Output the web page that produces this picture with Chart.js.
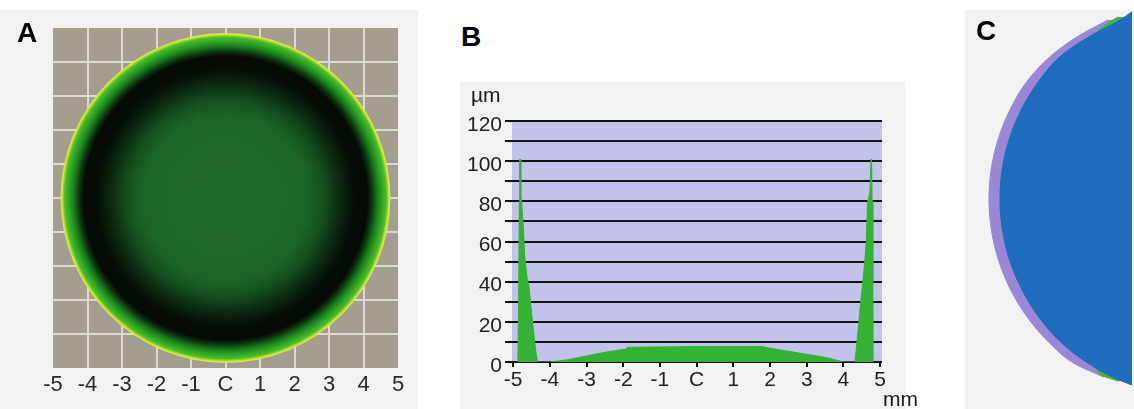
<!DOCTYPE html>
<html><head><meta charset="utf-8">
<script src="https://cdn.jsdelivr.net/npm/chart.js@4.4.1/dist/chart.umd.min.js"></script>
<style>
html,body{margin:0;padding:0;background:#ffffff;width:1134px;height:409px;overflow:hidden;font-family:"Liberation Sans",Arial,sans-serif;}
.panel{position:absolute;background:#f2f2f3;}
.lbl{position:absolute;line-height:1;white-space:nowrap;color:#1a1a1a;}
.letter{font-weight:bold;font-size:28px;color:#000;}
canvas{position:absolute;}
</style></head>
<body>
<div class="panel" style="left:0;top:10px;width:418px;height:399px;"></div>
<div class="panel" style="left:460px;top:82px;width:445px;height:327px;"></div>
<div class="panel" style="left:965px;top:10px;width:169px;height:399px;"></div>

<canvas id="ca" width="420" height="409" style="left:0;top:0;"></canvas>
<canvas id="cb" width="460" height="329" style="left:440px;top:80px;"></canvas>
<canvas id="cc" width="174" height="409" style="left:960px;top:0;"></canvas>

<div class="lbl letter" style="left:17px;top:19px;">A</div>
<div class="lbl letter" style="left:461px;top:23px;">B</div>
<div class="lbl letter" style="left:976px;top:17px;">C</div>
<div class="lbl" style="left:471px;top:84px;font-size:21px;">µm</div>
<div class="lbl" style="left:883px;top:388px;font-size:21px;">mm</div>

<script>
// ---------- Panel A: thickness map ----------
const aTicks = [-5, -4, -3, -2, -1, 0, 1, 2, 3, 4, 5];
const aTickLabels = ['-5', '-4', '-3', '-2', '-1', 'C', '1', '2', '3', '4', '5'];
const aLensX = [0];
const aLensY = [0];
const aLensRadius = 4.78;
const aStops  = [0, 0.5, 0.6, 0.7, 0.78, 0.86, 0.89, 0.92, 0.95, 0.975, 0.985, 0.993, 1.0];
const aColors = ['#1e6b2c', '#1c6529', '#154f1f', '#0b2810', '#050d06', '#050a05',
                 '#0d3a0f', '#1a7a1c', '#2fa526', '#4cbc2a', '#9ed436', '#d8e63c', '#e4ea48'];

// ---------- Panel B: thickness profile ----------
const bXTicks = [-5, -4, -3, -2, -1, 0, 1, 2, 3, 4, 5];
const bXLabels = ['-5', '-4', '-3', '-2', '-1', 'C', '1', '2', '3', '4', '5'];
const bYTicks = [0, 10, 20, 30, 40, 50, 60, 70, 80, 90, 100, 110, 120];
const bYLabels = ['0', '', '20', '', '40', '', '60', '', '80', '', '100', '', '120'];
const bX = [-4.87, -4.85, -4.83, -4.82, -4.81, -4.79, -4.77, -4.73, -4.68, -4.62, -4.57, -4.50, -4.44, -4.38, -4.33,
            -4.0, -3.55, -3.0, -2.45, -2.1, -1.95, -1.88, -1.0, 0, 1.0, 1.8, 1.9, 2.45, 3.0, 3.54, 3.9, 3.98,
            4.31, 4.36, 4.42, 4.48, 4.53, 4.58, 4.62, 4.66, 4.72, 4.75, 4.765, 4.78, 4.80, 4.81];
const bY = [0, 30, 80, 101, 101, 84, 80, 70, 52, 42, 38, 25, 15, 5, 0,
            0, 1, 3, 5, 6, 6.3, 7.3, 7.5, 7.7, 7.7, 7.7, 7.2, 5.5, 3.8, 2.2, 0.5, 0,
            0, 8, 20, 32, 40, 50, 60, 80, 84, 101, 101, 80, 40, 0];

// ---------- Panel C: cross-section ----------
const cBlueY   = [5.0, 4.784, 4.382, 3.845, 3.175, 2.371, 1.567, 0.762, -0.015, -0.793, -1.597, -2.401, -3.205, -3.876, -4.412, -4.814, -5.0];
const cBlueX   = [-0.01, -0.32, -1.072, -1.879, -2.477, -2.973, -3.298, -3.483, -3.539, -3.483, -3.298, -2.973, -2.477, -1.879, -1.18, -0.456, 0];
const cGreenY  = [4.864, 4.65, 4.248, -0.015, -4.332, -4.707, -4.894];
const cGreenX  = [-0.375, -0.724, -1.126, -3.0, -0.99, -0.858, -0.375];
const cPurpleY = [4.784, 4.382, 3.845, 3.175, 2.371, 1.567, 0.762, -0.015, -0.793, -1.597, -2.401, -3.205, -3.876, -4.412, -4.787];
const cPurpleX = [-0.643, -1.394, -2.145, -2.788, -3.276, -3.595, -3.777, -3.834, -3.777, -3.595, -3.276, -2.788, -2.204, -1.560, -0.751];

Chart.defaults.font.family = "'Liberation Sans', Arial, sans-serif";

const areaFill = (id, color) => ({
  id: id,
  beforeDraw(chart) {
    const {ctx, chartArea: a} = chart;
    ctx.save();
    ctx.fillStyle = color;
    ctx.fillRect(a.left, a.top, a.width, a.height);
    ctx.restore();
  }
});
const setTicks = arr => (s => { s.ticks = arr.map(v => ({value: v})); });

// Panel A
function lensRadius(c) {
  const xs = c.chart.scales.x;
  return Math.abs(xs.getPixelForValue(aLensRadius) - xs.getPixelForValue(0));
}
function lensFill(c) {
  const ch = c.chart;
  const cx = ch.scales.x.getPixelForValue(aLensX[0]);
  const cy = ch.scales.y.getPixelForValue(aLensY[0]);
  const r = lensRadius(c);
  if (!isFinite(cx) || !isFinite(cy) || !(r > 0)) return '#1e6b2c';
  const g = ch.ctx.createRadialGradient(cx, cy, 0, cx, cy, r);
  aStops.forEach((s, i) => g.addColorStop(s, aColors[i]));
  return g;
}
new Chart(document.getElementById('ca'), {
  type: 'scatter',
  data: {datasets: [{
    data: aLensX.map((x, i) => ({x: x, y: aLensY[i]})),
    pointRadius: lensRadius, pointHoverRadius: lensRadius,
    backgroundColor: lensFill, hoverBackgroundColor: lensFill,
    borderWidth: 0
  }]},
  options: {
    responsive: false, animation: false, events: [],
    layout: {padding: {left: 53, top: 28, right: 22, bottom: 1}},
    plugins: {legend: {display: false}, tooltip: {enabled: false}},
    scales: {
      x: {type: 'linear', min: -5, max: 5, afterBuildTicks: setTicks(aTicks),
          afterFit: s => { s.height = 40; },
          grid: {color: c => (c.tick && Math.abs(c.tick.value) === 5) ? 'rgba(0,0,0,0)' : '#dcd9d0', lineWidth: 2, drawTicks: false},
          border: {display: false},
          ticks: {padding: 4, color: '#2a2a2a', font: {size: 22}, maxRotation: 0, autoSkip: false,
                  callback: v => aTickLabels[aTicks.indexOf(v)]}},
      y: {type: 'linear', min: -5, max: 5, afterBuildTicks: setTicks(aTicks),
          afterFit: s => { s.width = 0; },
          grid: {color: c => (c.tick && Math.abs(c.tick.value) === 5) ? 'rgba(0,0,0,0)' : '#dcd9d0', lineWidth: 2, drawTicks: false},
          border: {display: false},
          ticks: {display: false}}
    }
  },
  plugins: [areaFill('bgA', '#a39e90')]
});

// Panel B
new Chart(document.getElementById('cb'), {
  type: 'line',
  data: {datasets: [{
    data: bX.map((x, i) => ({x: x, y: bY[i]})),
    fill: 'origin', backgroundColor: '#33b233', borderColor: '#33b233', borderWidth: 1,
    pointRadius: 0, tension: 0
  }]},
  options: {
    responsive: false, animation: false, events: [],
    layout: {padding: {left: 0, top: 40, right: 18, bottom: 0}},
    plugins: {legend: {display: false}, tooltip: {enabled: false}},
    scales: {
      x: {type: 'linear', min: -5.03, max: 5.05, afterBuildTicks: setTicks(bXTicks),
          afterFit: s => { s.height = 47; },
          grid: {drawOnChartArea: false, tickLength: 5, color: '#111', lineWidth: 2},
          border: {display: false},
          ticks: {padding: 1, color: '#222', font: {size: 21}, maxRotation: 0, autoSkip: false,
                  callback: v => bXLabels[bXTicks.indexOf(v)]}},
      y: {type: 'linear', min: 0, max: 120.5, z: 1, afterBuildTicks: setTicks(bYTicks),
          afterFit: s => { s.width = 72; },
          grid: {color: '#111', lineWidth: 2, tickLength: 7},
          border: {display: false},
          ticks: {padding: 3, color: '#222', font: {size: 21}, labelOffset: 4, autoSkip: false,
                  callback: v => bYLabels[bYTicks.indexOf(v)]}}
    }
  },
  plugins: [areaFill('bgB', '#c2c2ea')]
});

// Panel C
const cSet = (xs, ys, color) => ({
  data: xs.map((x, i) => ({x: x, y: ys[i]})),
  fill: {value: 0}, backgroundColor: color, borderColor: color, borderWidth: 1,
  pointRadius: 0, cubicInterpolationMode: 'monotone'
});
new Chart(document.getElementById('cc'), {
  type: 'line',
  data: {datasets: [
    cSet(cBlueX, cBlueY, '#1f6cbf'),
    cSet(cGreenX, cGreenY, '#3bb54a'),
    cSet(cPurpleX, cPurpleY, '#9a88d4')
  ]},
  options: {
    indexAxis: 'y',
    responsive: false, animation: false, events: [],
    layout: {padding: 0},
    plugins: {legend: {display: false}, tooltip: {enabled: false}},
    scales: {
      x: {type: 'linear', display: false, min: -4.61, max: 0.054},
      y: {type: 'linear', display: false, min: -5.64, max: 5.32}
    }
  }
});
</script>
</body></html>
